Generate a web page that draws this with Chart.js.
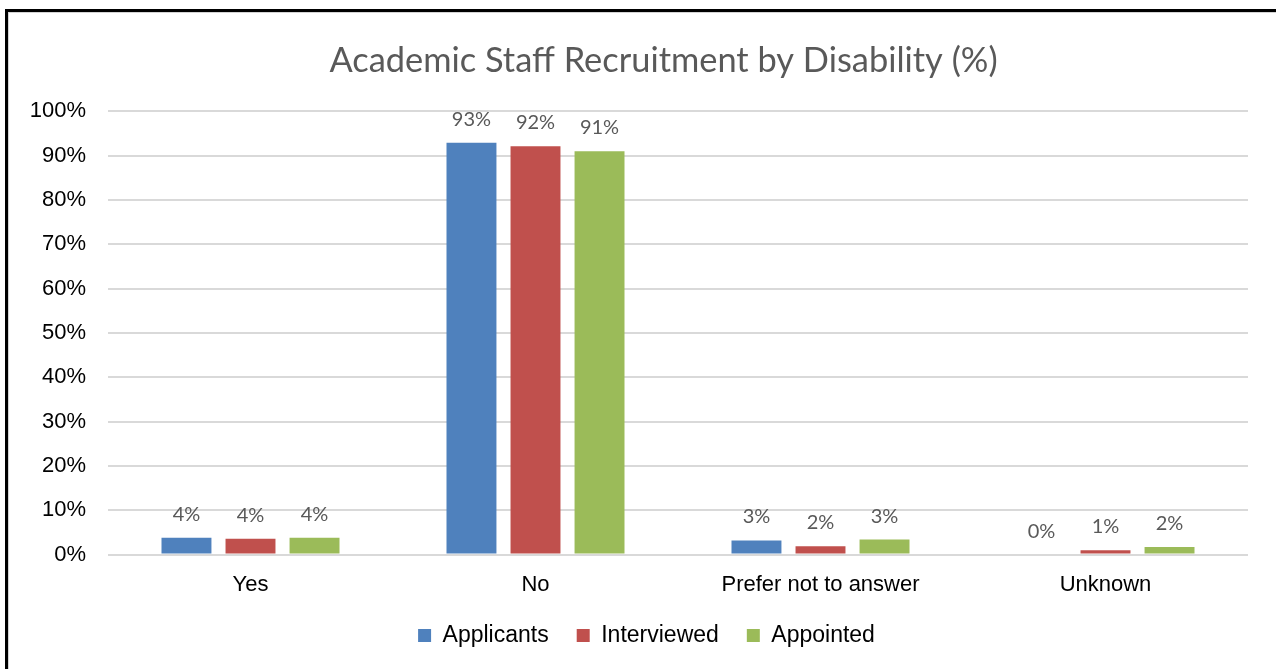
<!DOCTYPE html>
<html>
<head>
<meta charset="utf-8">
<title>Academic Staff Recruitment by Disability</title>
<script src="https://cdn.jsdelivr.net/npm/chart.js@4.4.0/dist/chart.umd.min.js"></script>
<style>
  html, body { margin: 0; padding: 0; background: #fff; overflow: hidden; }
  #frame {
    position: absolute; left: 5px; top: 9px; width: 1400px; height: 800px;
    border-left: 3px solid #000; border-top: 3px solid #000;
    box-shadow: inset 1px 1px 0 #d4d4d4;
  }
  #wrap { position: absolute; left: 0; top: 0; width: 1276px; height: 669px; }
</style>
</head>
<body>
<div id="frame"></div>
<div id="wrap"><canvas id="recruitChart"></canvas></div>
<script>
const categories = ["Yes", "No", "Prefer not to answer", "Unknown"];
const applicants = [3.8, 92.9, 3.2, 0];
const interviewed = [3.6, 92.1, 1.9, 1.0];
const appointed = [3.8, 91.0, 3.4, 1.7];

// value labels above each bar, like the Excel data labels
const barLabels = {
  id: "barLabels",
  afterDatasetsDraw(chart) {
    const ctx = chart.ctx;
    ctx.save();
    ctx.font = "20px Lato";
    ctx.fillStyle = "#595959";
    ctx.textAlign = "center";
    ctx.textBaseline = "alphabetic";
    chart.data.datasets.forEach((ds, i) => {
      chart.getDatasetMeta(i).data.forEach((bar, j) => {
        ctx.fillText(Math.round(ds.data[j]) + "%", bar.x, bar.y - 17);
      });
    });
    ctx.restore();
  },
};

// Excel centres the title and legend a bit right of the plot centre
const shiftBoxes = {
  id: "shiftBoxes",
  afterLayout(chart) {
    chart.titleBlock.left += 26;
    chart.titleBlock.right += 26;
    chart.legend.left += 9;
    chart.legend.right += 9;
  },
};

const ctx = document.getElementById("recruitChart").getContext("2d");

new Chart(ctx, {
  type: "bar",
  data: {
    labels: categories,
    datasets: [
      {
        label: "Applicants",
        data: applicants,
        backgroundColor: "#4f81bd",
        categoryPercentage: 0.674,
        barPercentage: 0.78,
      },
      {
        label: "Interviewed",
        data: interviewed,
        backgroundColor: "#c0504d",
        categoryPercentage: 0.674,
        barPercentage: 0.78,
      },
      {
        label: "Appointed",
        data: appointed,
        backgroundColor: "#9bbb59",
        categoryPercentage: 0.674,
        barPercentage: 0.78,
      },
    ],
  },
  plugins: [barLabels, shiftBoxes],
  options: {
    responsive: true,
    maintainAspectRatio: false,
    animation: false,
    layout: {
      padding: { left: 27, right: 28, top: 0, bottom: 12 },
    },
    plugins: {
      title: {
        display: true,
        text: "Academic Staff Recruitment by Disability (%)",
        color: "#595959",
        font: { family: "Lato", size: 34.4, weight: "normal" },
        padding: { top: 40, bottom: 30 },
      },
      legend: {
        display: true,
        position: "bottom",
        labels: {
          boxWidth: 13,
          boxHeight: 13,
          padding: 28,
          color: "#000",
          font: { family: "'Liberation Sans', Arial, sans-serif", size: 23 },
        },
      },
      tooltip: { enabled: false },
    },
    scales: {
      y: {
        min: 0,
        max: 100,
        afterFit: function (scale) {
          scale.width = 81;
        },
        ticks: {
          stepSize: 10,
          padding: 22,
          color: "#000",
          font: { family: "'Liberation Sans', Arial, sans-serif", size: 22 },
          callback: function (value) {
            return value + "%";
          },
        },
        grid: {
          color: "#d9d9d9",
          lineWidth: 2,
          drawTicks: false,
        },
        border: { display: false },
      },
      x: {
        afterFit: function (scale) {
          scale.height -= 19;
        },
        ticks: {
          padding: 17,
          color: "#000",
          font: { family: "'Liberation Sans', Arial, sans-serif", size: 22 },
        },
        grid: { display: false, drawTicks: false },
        border: { display: false },
      },
    },
  },
});
</script>
</body>
</html>
